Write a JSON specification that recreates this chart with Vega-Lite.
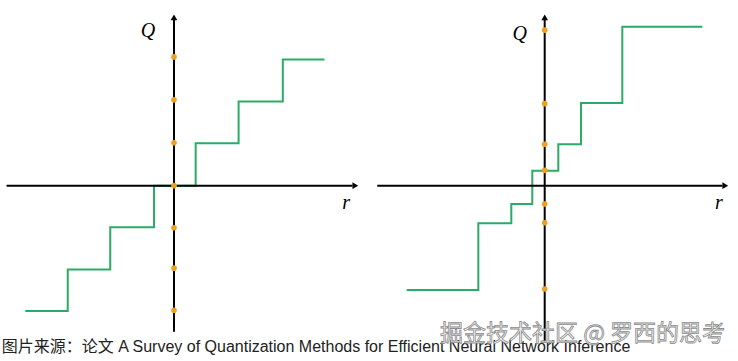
{
  "$schema": "https://vega.github.io/schema/vega-lite/v6.json",
  "padding": 0,
  "spacing": 0,
  "bounds": "flush",
  "background": "white",
  "config": {"view": {"stroke": null}},
  "datasets": {
    "leftSteps": [
      {"r": -3.5, "Q": -2.95}, {"r": -2.5, "Q": -1.97}, {"r": -1.5, "Q": -0.98},
      {"r": -0.47, "Q": 0}, {"r": 0.51, "Q": 1.0}, {"r": 1.52, "Q": 1.98},
      {"r": 2.56, "Q": 2.97}, {"r": 3.54, "Q": 2.97}
    ],
    "leftDots": [
      {"r": 0, "Q": 3.03}, {"r": 0, "Q": 2.02}, {"r": 0, "Q": 1.01}, {"r": 0, "Q": 0},
      {"r": 0, "Q": -0.99}, {"r": 0, "Q": -1.94}, {"r": 0, "Q": -2.93}
    ],
    "leftAxes": [
      {"r": -3.94, "r2": 4.2, "Q": 0, "Q2": 0},
      {"r": 0, "r2": 0, "Q": -3.435, "Q2": 3.9}
    ],
    "leftArrows": [
      {"r": 4.266, "Q": 0, "dir": "triangle-right"},
      {"r": 0, "Q": 3.962, "dir": "triangle-up"}
    ],
    "leftLabels": [
      {"r": -0.61, "Q": 3.64, "label": "Q"},
      {"r": 4.05, "Q": -0.4, "label": "r"}
    ],
    "caption": [
      {"r": -4.05, "Q": -3.795, "label": "图片来源：论文 A Survey of Quantization Methods for Efficient Neural Network Inference"}
    ],
    "rightSteps": [
      {"r": -3.247, "Q": -2.454}, {"r": -1.562, "Q": -0.885}, {"r": -0.786, "Q": -0.431},
      {"r": -0.292, "Q": 0.353}, {"r": 0.32, "Q": 0.974}, {"r": 0.854, "Q": 1.946},
      {"r": 1.826, "Q": 3.74}, {"r": 3.708, "Q": 3.74}
    ],
    "rightDots": [
      {"r": 0, "Q": 3.66}, {"r": 0, "Q": 1.93}, {"r": 0, "Q": 0.974}, {"r": 0, "Q": 0.362},
      {"r": 0, "Q": -0.431}, {"r": 0, "Q": -0.871}, {"r": 0, "Q": -2.43}
    ],
    "rightAxes": [
      {"r": -3.94, "r2": 4.18, "Q": 0, "Q2": 0},
      {"r": 0, "r2": 0, "Q": -3.70, "Q2": 3.9}
    ],
    "rightArrows": [
      {"r": 4.249, "Q": 0, "dir": "triangle-right"},
      {"r": 0, "Q": 3.962, "dir": "triangle-up"}
    ],
    "rightLabels": [
      {"r": -0.59, "Q": 3.57, "label": "Q"},
      {"r": 4.1, "Q": -0.4, "label": "r"}
    ],
    "watermark": [
      {"r": -2.464, "Q": -3.49, "label": "掘金技术社区 @ 罗西的思考"}
    ]
  },
  "hconcat": [
    {
      "width": 369,
      "height": 361,
      "encoding": {
        "x": {"field": "r", "type": "quantitative", "scale": {"domain": [-4.094, 4.588], "nice": false, "zero": false}, "axis": null},
        "y": {"field": "Q", "type": "quantitative", "scale": {"domain": [-4.125, 4.369], "nice": false, "zero": false}, "axis": null}
      },
      "layer": [
        {
          "data": {"name": "leftSteps"},
          "mark": {"type": "line", "interpolate": "step-after", "color": "#2bab67", "strokeWidth": 2}
        },
        {
          "data": {"name": "leftAxes"},
          "mark": {"type": "rule", "color": "#000000", "strokeWidth": 2},
          "encoding": {"x2": {"field": "r2"}, "y2": {"field": "Q2"}}
        },
        {
          "data": {"name": "leftArrows"},
          "mark": {"type": "point", "filled": true, "color": "#000000", "opacity": 1, "size": 45},
          "encoding": {"shape": {"field": "dir", "type": "nominal", "scale": null}}
        },
        {
          "data": {"name": "leftDots"},
          "mark": {"type": "circle", "color": "#f0a020", "opacity": 1, "size": 32}
        },
        {
          "data": {"name": "leftLabels"},
          "mark": {"type": "text", "font": "Liberation Serif", "fontStyle": "italic", "fontSize": 20, "color": "#000000", "align": "center", "baseline": "middle"},
          "encoding": {"text": {"field": "label"}}
        },
        {
          "data": {"name": "caption"},
          "mark": {"type": "text", "font": "Liberation Sans, Noto Sans CJK SC", "fontSize": 16, "color": "#222222", "align": "left", "baseline": "middle"},
          "encoding": {"text": {"field": "label"}}
        }
      ]
    },
    {
      "width": 369,
      "height": 361,
      "encoding": {
        "x": {"field": "r", "type": "quantitative", "scale": {"domain": [-4.134, 4.548], "nice": false, "zero": false}, "axis": null},
        "y": {"field": "Q", "type": "quantitative", "scale": {"domain": [-4.125, 4.369], "nice": false, "zero": false}, "axis": null}
      },
      "layer": [
        {
          "data": {"name": "rightSteps"},
          "mark": {"type": "line", "interpolate": "step-after", "color": "#2bab67", "strokeWidth": 2}
        },
        {
          "data": {"name": "rightAxes"},
          "mark": {"type": "rule", "color": "#000000", "strokeWidth": 2},
          "encoding": {"x2": {"field": "r2"}, "y2": {"field": "Q2"}}
        },
        {
          "data": {"name": "rightArrows"},
          "mark": {"type": "point", "filled": true, "color": "#000000", "opacity": 1, "size": 45},
          "encoding": {"shape": {"field": "dir", "type": "nominal", "scale": null}}
        },
        {
          "data": {"name": "rightDots"},
          "mark": {"type": "circle", "color": "#f0a020", "opacity": 1, "size": 32}
        },
        {
          "data": {"name": "rightLabels"},
          "mark": {"type": "text", "font": "Liberation Serif", "fontStyle": "italic", "fontSize": 20, "color": "#000000", "align": "center", "baseline": "middle"},
          "encoding": {"text": {"field": "label"}}
        },
        {
          "data": {"name": "watermark"},
          "mark": {"type": "text", "font": "Noto Sans CJK SC", "fontSize": 23, "fill": "#f4f4f4", "stroke": "#8c8c8c", "strokeWidth": 0.8, "align": "left", "baseline": "middle"},
          "encoding": {"text": {"field": "label"}}
        }
      ]
    }
  ]
}
